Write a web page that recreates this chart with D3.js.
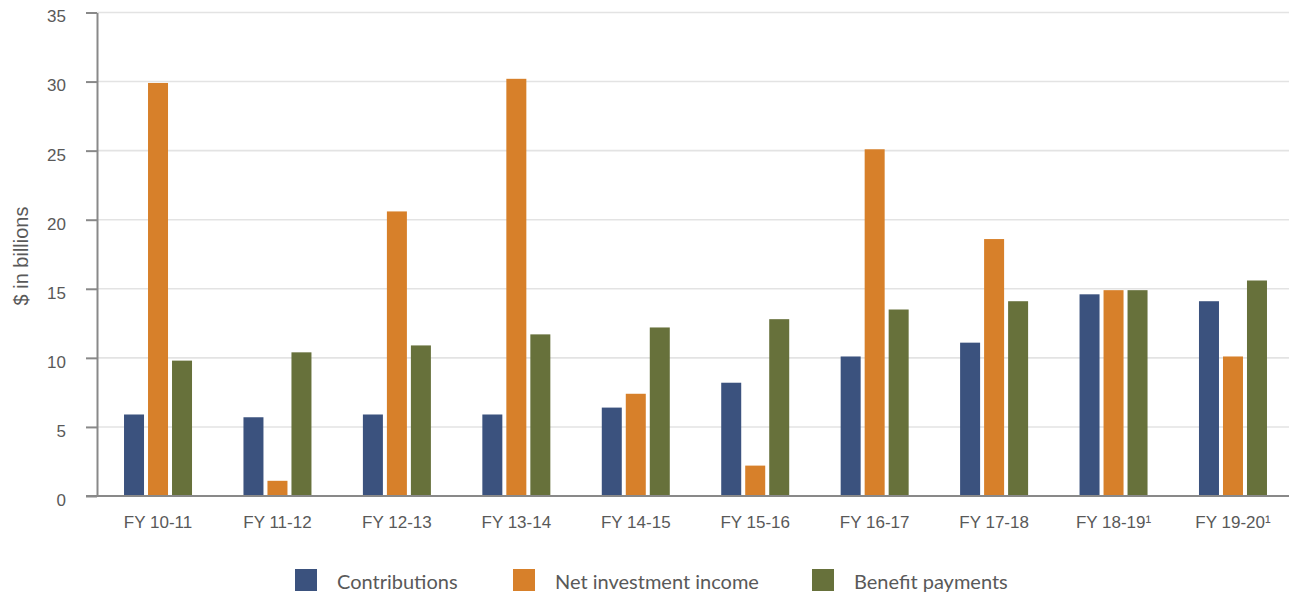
<!DOCTYPE html>
<html>
<head>
<meta charset="utf-8">
<script src="https://cdn.jsdelivr.net/npm/d3@7"></script>
<style>
  html, body { margin: 0; padding: 0; background: #ffffff; }
  svg { display: block; }
</style>
</head>
<body>
<svg id="chart" width="1289" height="597"></svg>
<script>
// Fiscal years shown along the x axis
const categories = ["FY 10-11", "FY 11-12", "FY 12-13", "FY 13-14", "FY 14-15",
                    "FY 15-16", "FY 16-17", "FY 17-18", "FY 18-19\u00B9", "FY 19-20\u00B9"];

// Series values, $ in billions
const contributions       = [5.9, 5.7, 5.9, 5.9, 6.4, 8.2, 10.1, 11.1, 14.6, 14.1];
const netInvestmentIncome = [29.9, 1.1, 20.6, 30.2, 7.4, 2.2, 25.1, 18.6, 14.9, 10.1];
const benefitPayments     = [9.8, 10.4, 10.9, 11.7, 12.2, 12.8, 13.5, 14.1, 14.9, 15.6];

const seriesNames = ["Contributions", "Net investment income", "Benefit payments"];
const seriesColors = ["#3b527e", "#d7802a", "#67713b"];
const yTicks = [0, 5, 10, 15, 20, 25, 30, 35];

const series = [contributions, netInvestmentIncome, benefitPayments];

const svg = d3.select("#chart");

// Plot geometry
const axisX = 97;
const plotTop = 12.5, plotBottom = 496;
const gridRight = 1289;

const y = d3.scaleLinear().domain([0, 35]).range([plotBottom, plotTop]);
const x = d3.scaleBand().domain(categories).range([98.3, 1292.7]).paddingInner(0).paddingOuter(0);
const groupWidth = 68;
const xs = d3.scaleBand().domain(seriesNames).range([0, groupWidth]).paddingInner(1 / 6).paddingOuter(0);

// Horizontal gridlines
svg.append("g")
  .selectAll("line")
  .data(yTicks.filter(d => d > 0))
  .join("line")
  .attr("x1", axisX)
  .attr("x2", gridRight)
  .attr("y1", d => y(d))
  .attr("y2", d => y(d))
  .attr("stroke", "#e3e3e3")
  .attr("stroke-width", 1.6);

// Bars
const groups = svg.append("g")
  .selectAll("g")
  .data(categories)
  .join("g")
  .attr("transform", c => `translate(${x(c) + x.bandwidth() / 2 - groupWidth / 2},0)`);

groups.selectAll("rect")
  .data((c, i) => seriesNames.map((s, k) => ({ s, k, v: series[k][i] })))
  .join("rect")
  .attr("x", d => xs(d.s))
  .attr("width", xs.bandwidth())
  .attr("y", d => y(d.v))
  .attr("height", d => plotBottom - y(d.v))
  .attr("fill", d => seriesColors[d.k]);

// Y axis
const yAxis = svg.append("g")
  .attr("transform", `translate(${axisX},0)`)
  .call(d3.axisLeft(y).tickValues(yTicks).tickSize(11).tickPadding(20).tickSizeOuter(0));
yAxis.select(".domain").attr("stroke", "#898989").attr("stroke-width", 2);
yAxis.selectAll(".tick line").attr("stroke", "#898989").attr("stroke-width", 2);
yAxis.selectAll(".tick text")
  .attr("fill", "#595959")
  .attr("dy", "0.55em")
  .style("font-family", "'Liberation Sans', Arial, sans-serif")
  .style("font-size", "17px");

// X baseline
svg.append("line")
  .attr("x1", 86).attr("x2", gridRight)
  .attr("y1", plotBottom).attr("y2", plotBottom)
  .attr("stroke", "#898989").attr("stroke-width", 2);

// X axis labels
const xAxis = svg.append("g")
  .attr("transform", `translate(0,${plotBottom})`)
  .call(d3.axisBottom(x).tickSize(0).tickPadding(20));
xAxis.select(".domain").remove();
xAxis.selectAll(".tick text")
  .attr("fill", "#595959")
  .style("font-family", "'Liberation Sans', Arial, sans-serif")
  .style("font-size", "17px");

// Y axis title
svg.append("text")
  .attr("transform", `translate(28,256) rotate(-90)`)
  .attr("text-anchor", "middle")
  .attr("fill", "#595959")
  .style("font-family", "'Liberation Sans', Arial, sans-serif")
  .style("font-size", "20px")
  .text("$ in billions");

// Legend
const legendX = [295, 513, 812];
const legend = svg.append("g")
  .selectAll("g")
  .data(seriesNames)
  .join("g")
  .attr("transform", (d, i) => `translate(${legendX[i]},569)`);
legend.append("rect")
  .attr("width", 22).attr("height", 22)
  .attr("fill", (d, i) => seriesColors[i]);
legend.append("text")
  .attr("x", 42).attr("y", 20)
  .attr("fill", "#595959")
  .style("font-family", "Lato, 'Open Sans', sans-serif")
  .style("font-size", "20px")
  .text(d => d);
</script>
</body>
</html>
